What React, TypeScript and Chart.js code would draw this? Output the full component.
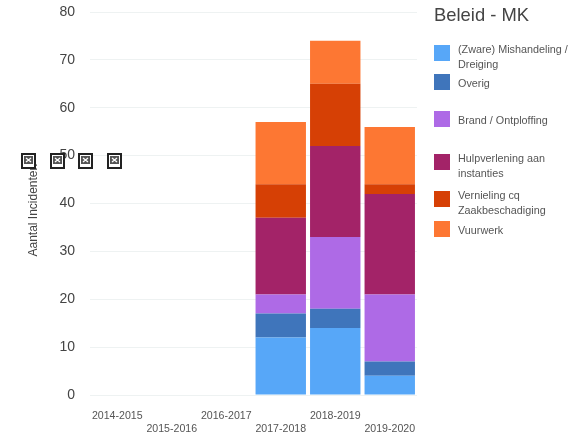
import React, { useEffect, useRef } from "react";
import { Chart, registerables } from "chart.js";

Chart.register(...registerables);

const categories = [
  ["2014-2015", ""],
  ["", "2015-2016"],
  ["2016-2017", ""],
  ["", "2017-2018"],
  ["2018-2019", ""],
  ["", "2019-2020"],
];
const mishandeling = [null, null, null, 12, 14, 4];
const overig = [null, null, null, 5, 4, 3];
const brand = [null, null, null, 4, 15, 14];
const hulpverlening = [null, null, null, 16, 19, 21];
const vernieling = [null, null, null, 7, 13, 2];
const vuurwerk = [null, null, null, 13, 9, 12];

const seriesNames = [
  ["(Zware) Mishandeling /", "Dreiging"],
  ["Overig"],
  ["Brand / Ontploffing"],
  ["Hulpverlening aan", "instanties"],
  ["Vernieling cq", "Zaakbeschadiging"],
  ["Vuurwerk"],
];
const seriesValues = [mishandeling, overig, brand, hulpverlening, vernieling, vuurwerk];
const seriesColors = ["#57a7f8", "#3f75bb", "#ae6ae6", "#a32368", "#d64005", "#fd7733"];

const legendTops = [45, 74, 111, 154, 191, 221];
const brokenIconLefts = [21, 50, 78, 107];
const FONT = "'Liberation Sans', Arial, sans-serif";

export default function App() {
  const ref = useRef<HTMLCanvasElement>(null);

  useEffect(() => {
    const chart = new Chart(ref.current!, {
      type: "bar",
      data: {
        labels: categories,
        datasets: seriesValues.map((data, i) => ({
          label: seriesNames[i].join(" "),
          data,
          backgroundColor: seriesColors[i],
          barPercentage: 0.925,
          categoryPercentage: 1,
        })),
      },
      options: {
        responsive: false,
        animation: false,
        layout: { padding: { left: 26, right: 153, top: 12, bottom: 0 } },
        plugins: { legend: { display: false }, tooltip: { enabled: false } },
        scales: {
          x: {
            stacked: true,
            grid: { display: false },
            border: { display: false },
            ticks: {
              autoSkip: false,
              maxRotation: 0,
              minRotation: 0,
              padding: 6,
              color: "#555",
              font: { family: FONT, size: 10.6, lineHeight: 1.25 },
            },
            afterFit: (s: any) => {
              s.height = 41;
            },
          },
          y: {
            stacked: true,
            min: 0,
            max: 80,
            grid: { color: "#eef2f2", tickLength: 0 },
            border: { display: false },
            ticks: {
              stepSize: 10,
              padding: 15,
              color: "#444",
              font: { family: FONT, size: 14 },
            },
            title: {
              display: true,
              text: "Aantal Incidenten    ",
              color: "#444",
              padding: 0,
              font: { family: FONT, size: 12 },
            },
            afterFit: (s: any) => {
              s.width = 64;
              s.paddingTop = 0;
              s.paddingBottom = 0;
            },
          },
        },
      },
    });
    return () => chart.destroy();
  }, []);

  return (
    <div style={{ position: "absolute", left: 0, top: 0, width: 570, height: 436, overflow: "hidden", background: "#fff", fontFamily: FONT, filter: "blur(0.4px)" }}>
      <canvas ref={ref} width={570} height={436} style={{ position: "absolute", left: 0, top: 0, width: 570, height: 436 }} />
      {brokenIconLefts.map((left) => (
        <svg key={left} width={15} height={16} viewBox="0 0 15 16" style={{ position: "absolute", left, top: 153 }}>
          <rect x={1} y={1} width={13} height={14} fill="#fff" stroke="#222" strokeWidth={2} />
          <rect x={3} y={3} width={9} height={8} fill="#555" />
          <path d="M5 5 L10 9 M10 5 L5 9" stroke="#fff" strokeWidth={1.3} />
        </svg>
      ))}
      <div style={{ position: "absolute", left: 434, top: 4, fontSize: 18.4, color: "#444", whiteSpace: "nowrap" }}>Beleid - MK</div>
      {seriesNames.map((lines, i) => (
        <React.Fragment key={i}>
          <div style={{ position: "absolute", left: 434, top: legendTops[i], width: 16, height: 16, background: seriesColors[i] }} />
          <div style={{ position: "absolute", left: 458, top: legendTops[i] + (lines.length > 1 ? -3 : 2), fontSize: 10.8, lineHeight: "15px", color: "#555", whiteSpace: "nowrap" }}>
            {lines.map((l) => (
              <div key={l}>{l}</div>
            ))}
          </div>
        </React.Fragment>
      ))}
    </div>
  );
}
